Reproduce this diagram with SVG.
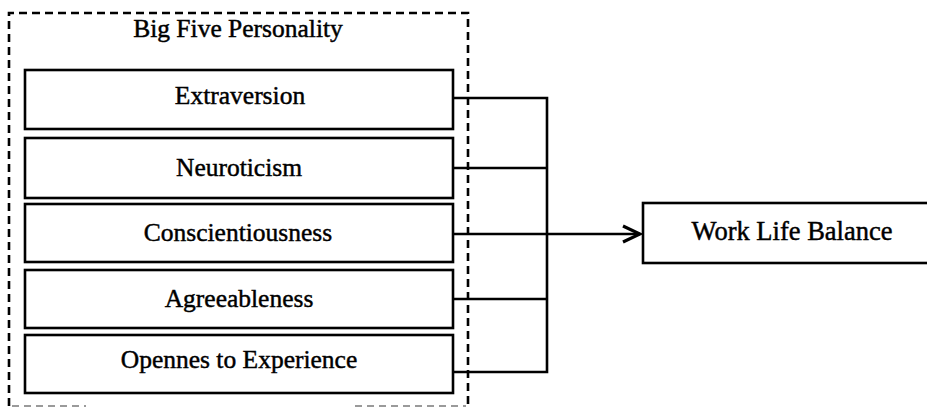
<svg xmlns="http://www.w3.org/2000/svg" width="927" height="410" viewBox="0 0 927 410">
  <defs>
    <style>
      .box { fill: #ffffff; stroke: #000000; stroke-width: 2.6; }
      .lbl { font-family: "Liberation Serif", "Times New Roman", serif; font-size: 25.5px; fill: #000000; stroke: #000000; stroke-width: 0.45; text-anchor: middle; }
      .big { font-size: 26.5px; }
      .conn { fill: none; stroke: #000000; stroke-width: 2.6; }
      .dash { fill: none; stroke: #000000; stroke-width: 2.6; stroke-dasharray: 8 5; }
      .dashfaint { fill: none; stroke: #9a9a9a; stroke-width: 2; stroke-dasharray: 7 5; }
    </style>
    <marker id="chev" markerWidth="22" markerHeight="20" refX="19" refY="10" orient="auto" markerUnits="userSpaceOnUse">
      <path d="M2,2 L19,10 L2,18" fill="none" stroke="#000000" stroke-width="3.2"/>
    </marker>
  </defs>
  <rect width="927" height="410" fill="#ffffff"/>

  <g id="group-big-five">
    <path class="dash" d="M9,406 L9,13 L468,13 L468,406"/>
    <path class="dashfaint" d="M12,406 L86,406"/>
    <path class="dashfaint" d="M355,406 L466,406"/>
    <text class="lbl" x="238" y="37">Big Five Personality</text>
  </g>

  <g id="node-extraversion">
    <rect class="box" x="25" y="70" width="428" height="59"/>
    <text class="lbl" x="240" y="104">Extraversion</text>
  </g>
  <g id="node-neuroticism">
    <rect class="box" x="25" y="138" width="428" height="60"/>
    <text class="lbl" x="239" y="176">Neuroticism</text>
  </g>
  <g id="node-conscientiousness">
    <rect class="box" x="25" y="204" width="428" height="58"/>
    <text class="lbl" x="238" y="241">Conscientiousness</text>
  </g>
  <g id="node-agreeableness">
    <rect class="box" x="25" y="270" width="428" height="58"/>
    <text class="lbl" x="239" y="307">Agreeableness</text>
  </g>
  <g id="node-openness">
    <rect class="box" x="25" y="335" width="428" height="58"/>
    <text class="lbl" x="239" y="368">Opennes to Experience</text>
  </g>

  <g id="node-work-life-balance">
    <rect class="box" x="643" y="203" width="300" height="60"/>
    <text class="lbl big" x="792" y="240">Work Life Balance</text>
  </g>

  <g id="connectors">
    <path class="conn" d="M453,98 L547,98 L547,372 L453,372"/>
    <path class="conn" d="M453,168 L547,168"/>
    <path class="conn" d="M453,299 L547,299"/>
    <path class="conn" d="M453,234 L640,234" marker-end="url(#chev)"/>
  </g>
</svg>
